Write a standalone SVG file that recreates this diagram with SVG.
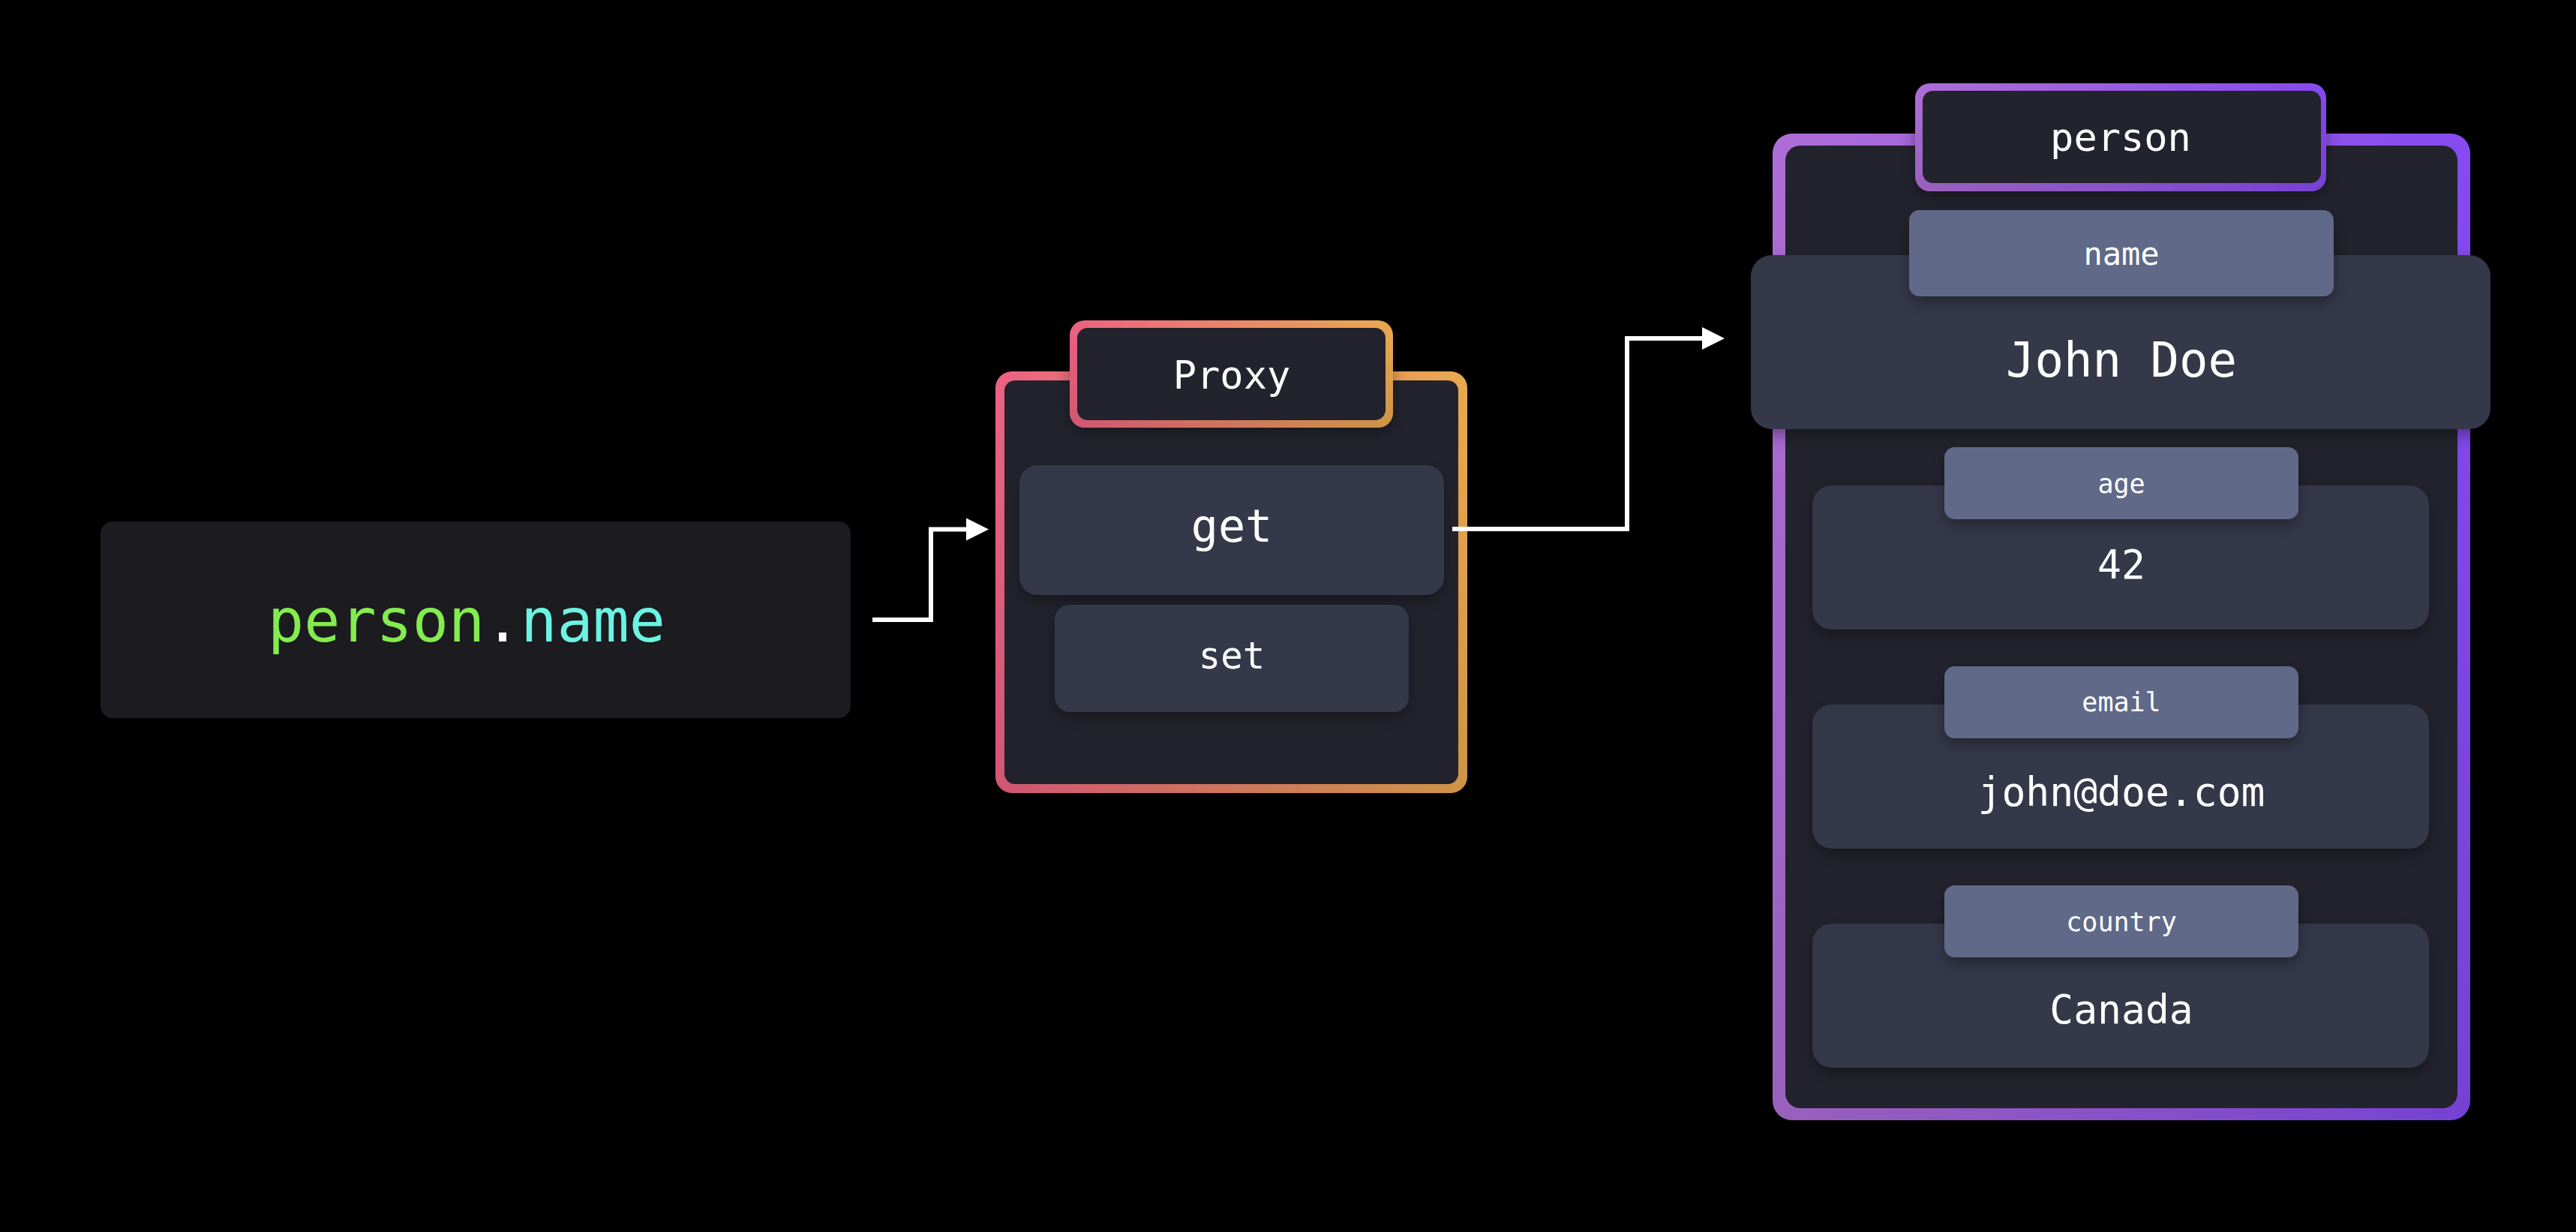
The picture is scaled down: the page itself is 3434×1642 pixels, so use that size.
<svg xmlns="http://www.w3.org/2000/svg" width="3434" height="1642" viewBox="0 0 3434 1642">
<style>
text{font-family:"DejaVu Sans Mono","Liberation Mono",monospace;fill:#ffffff;text-anchor:middle}
.panel{fill:#22232d}
.val{fill:#343748}
.lab{fill:#606987}
.conn{fill:none;stroke:#ffffff;stroke-width:6;stroke-linejoin:miter}
</style>
<defs>
<linearGradient id="gProxy" x1="0" y1="0" x2="1" y2="0">
<stop offset="0" stop-color="#ec6282"/>
<stop offset="1" stop-color="#e9a94f"/>
</linearGradient>
<linearGradient id="gPerson" x1="0" y1="0" x2="1" y2="0">
<stop offset="0" stop-color="#ae6ed6"/>
<stop offset="1" stop-color="#864af0"/>
</linearGradient>
<linearGradient id="gDark" x1="0" y1="0" x2="0" y2="1">
<stop offset="0" stop-color="#000" stop-opacity="0"/>
<stop offset="1" stop-color="#000" stop-opacity="0.12"/>
</linearGradient>
<filter id="sh" x="-20%" y="-20%" width="140%" height="160%">
<feDropShadow dx="0" dy="8" stdDeviation="10" flood-color="#000" flood-opacity="0.35"/>
</filter>
<marker id="arr" markerUnits="userSpaceOnUse" markerWidth="30" markerHeight="30" refX="2" refY="15" orient="auto">
<path d="M0,0 L30,15 L0,30 z" fill="#ffffff"/>
</marker>
</defs>
<rect width="3434" height="1642" fill="#000000"/>

<g id="expr">
<rect x="134" y="695" width="1000" height="262" rx="16" fill="#1b1b20"/>
<text x="622" y="855" font-size="80"><tspan fill="#84ec4f">person</tspan><tspan fill="#ffffff">.</tspan><tspan fill="#6cf3e3">name</tspan></text>
</g>

<g id="proxy">
<rect x="1327" y="495" width="629" height="562" rx="22" fill="url(#gProxy)"/>
<rect x="1327" y="495" width="629" height="562" rx="22" fill="url(#gDark)"/>
<rect x="1339" y="507" width="605" height="538" rx="14" class="panel"/>
<g filter="url(#sh)">
<rect x="1426" y="427" width="431" height="143" rx="20" fill="url(#gProxy)"/>
</g>
<rect x="1426" y="427" width="431" height="143" rx="20" fill="url(#gDark)"/>
<rect x="1436" y="437" width="411" height="123" rx="14" class="panel"/>
<text x="1642" y="518" font-size="52">Proxy</text>
<rect x="1359" y="620" width="566" height="173" rx="24" class="val" filter="url(#sh)"/>
<text x="1642" y="722" font-size="60">get</text>
<rect x="1406" y="806" width="472" height="143" rx="20" class="val" filter="url(#sh)"/>
<text x="1642" y="891" font-size="49">set</text>
</g>

<g id="person">
<rect x="2363" y="178" width="930" height="1315" rx="26" fill="url(#gPerson)"/>
<rect x="2363" y="178" width="930" height="1315" rx="26" fill="url(#gDark)"/>
<rect x="2380" y="194" width="896" height="1283" rx="20" class="panel"/>
<g filter="url(#sh)">
<rect x="2553" y="111" width="548" height="144" rx="20" fill="url(#gPerson)"/>
</g>
<rect x="2553" y="111" width="548" height="144" rx="20" fill="url(#gDark)"/>
<rect x="2563" y="121" width="531" height="123" rx="14" class="panel"/>
<text x="2827" y="201" font-size="52">person</text>
</g>

<g id="field-name">
<rect x="2334" y="340" width="986" height="232" rx="28" class="val" filter="url(#sh)"/>
<rect x="2545" y="280" width="566" height="115" rx="14" class="lab" filter="url(#sh)"/>
<text x="2828" y="353" font-size="42">name</text>
<text x="2828" y="502" font-size="64">John Doe</text>
</g>

<g id="field-age">
<rect x="2416" y="647" width="822" height="192" rx="26" class="val" filter="url(#sh)"/>
<rect x="2592" y="596" width="472" height="96" rx="14" class="lab" filter="url(#sh)"/>
<text x="2828" y="657" font-size="35">age</text>
<text x="2828" y="771" font-size="53">42</text>
</g>

<g id="field-email">
<rect x="2416" y="939" width="822" height="192" rx="26" class="val" filter="url(#sh)"/>
<rect x="2592" y="888" width="472" height="96" rx="14" class="lab" filter="url(#sh)"/>
<text x="2828" y="948" font-size="35">email</text>
<text x="2828" y="1074" font-size="53">john@doe.com</text>
</g>

<g id="field-country">
<rect x="2416" y="1231" width="822" height="192" rx="26" class="val" filter="url(#sh)"/>
<rect x="2592" y="1180" width="472" height="96" rx="14" class="lab" filter="url(#sh)"/>
<text x="2828" y="1241" font-size="35">country</text>
<text x="2828" y="1364" font-size="53">Canada</text>
</g>

<g id="connectors">
<path class="conn" d="M1163,826 H1241 V705.5 H1290" marker-end="url(#arr)"/>
<path class="conn" d="M1936,705 H2169 V451 H2271" marker-end="url(#arr)"/>
</g>
</svg>
